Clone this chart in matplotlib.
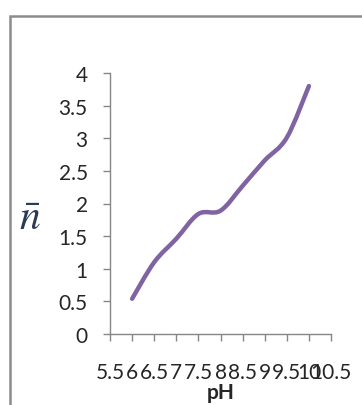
import matplotlib
matplotlib.use("Agg")
import matplotlib.pyplot as plt
from matplotlib.path import Path
from matplotlib.patches import PathPatch, Rectangle
import numpy as np

# Average ligand number vs pH
ph = [6.0, 6.5, 7.0, 7.5, 8.0, 8.5, 9.0, 9.5, 10.0]
nbar = [0.54, 1.10, 1.46, 1.84, 1.89, 2.27, 2.66, 3.01, 3.80]

x_ticks = [5.5, 6.0, 6.5, 7.0, 7.5, 8.0, 8.5, 9.0, 9.5, 10.0, 10.5]
x_labels = ["5.5", "6", "6.5", "7", "7.5", "8", "8.5", "9", "9.5", "10", "10.5"]
y_ticks = [0, 0.5, 1, 1.5, 2, 2.5, 3, 3.5, 4]
y_labels = ["0", "0.5", "1", "1.5", "2", "2.5", "3", "3.5", "4"]

plt.rcParams["font.family"] = ["Lato", "DejaVu Sans"]
plt.rcParams["mathtext.fontset"] = "stix"

W, H = 362, 406
fig = plt.figure(figsize=(W / 100, H / 100), dpi=100)
fig.patch.set_facecolor("white")

# chart-area frame (runs off the right and bottom edges)
fig.patches.append(Rectangle((10 / W, -0.1), 1.2, 1 - 17 / H + 0.1,
                             transform=fig.transFigure, fill=False,
                             edgecolor="#8c8c8c", linewidth=1.8))

ax = fig.add_axes([110 / W, 1 - 335 / H, (331 - 110) / W, (335 - 74) / H])
ax.set_xlim(x_ticks[0], x_ticks[-1])
ax.set_ylim(y_ticks[0], y_ticks[-1])

# smoothed line through the points (Catmull-Rom style cubic Beziers)
pts = np.column_stack([ph, nbar])
ext = np.vstack([pts[0], pts, pts[-1]])
verts = [tuple(pts[0])]
codes = [Path.MOVETO]
for i in range(1, len(ext) - 2):
    p0, p1, p2, p3 = ext[i - 1], ext[i], ext[i + 1], ext[i + 2]
    c1 = p1 + (p2 - p0) / 6.0
    c2 = p2 - (p3 - p1) / 6.0
    verts += [tuple(c1), tuple(c2), tuple(p2)]
    codes += [Path.CURVE4] * 3
ax.add_patch(PathPatch(Path(verts, codes), facecolor="none",
                       edgecolor="#8064A2", linewidth=3.2,
                       capstyle="round", joinstyle="round"))

for side in ("top", "right"):
    ax.spines[side].set_visible(False)
for side in ("left", "bottom"):
    ax.spines[side].set_color("#868686")
    ax.spines[side].set_linewidth(1.0)

ax.set_xticks(x_ticks)
ax.set_xticklabels(x_labels)
ax.set_yticks(y_ticks)
ax.set_yticklabels(y_labels)
ax.tick_params(axis="both", direction="out", length=5, width=1.0,
               color="#868686", labelsize=15, labelcolor="#262626")
ax.tick_params(axis="x", pad=15)
ax.tick_params(axis="y", pad=11)

ax.set_xlabel("pH", fontsize=15, fontweight="bold", color="#262626",
              va="center")
ax.xaxis.set_label_coords(0.5, -(393 - 335) / (335 - 74))
fig.text(30 / W, 1 - 218 / H, r"$\bar{n}$", fontsize=30, color="#2b3a55",
         ha="center", va="center")

fig.savefig("out.png", dpi=100, facecolor="white")
